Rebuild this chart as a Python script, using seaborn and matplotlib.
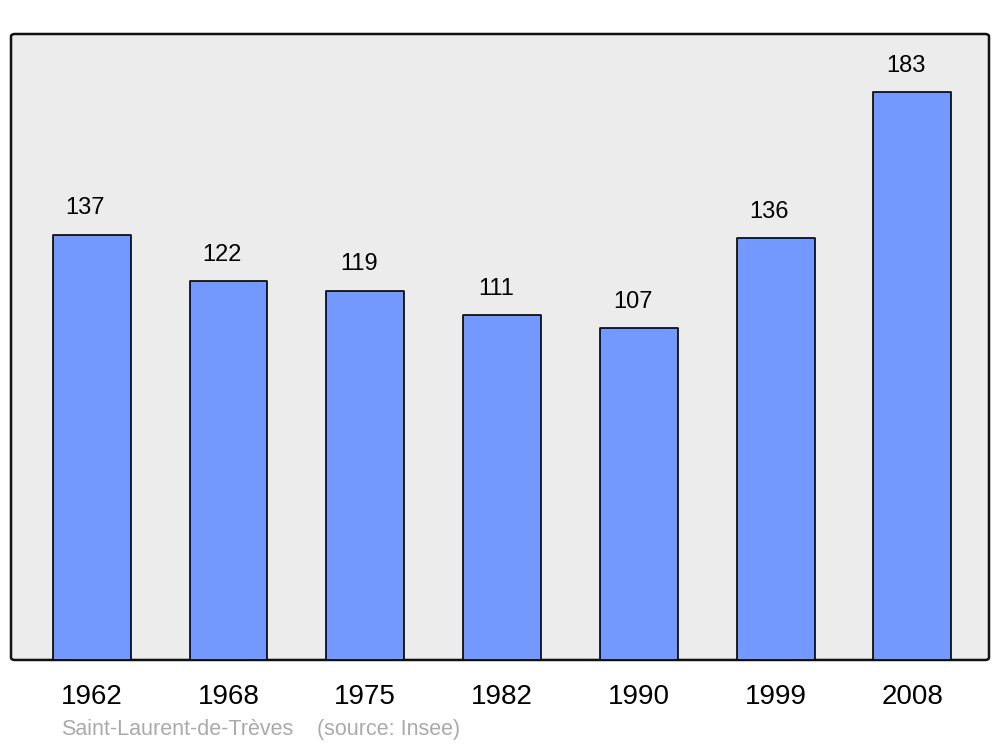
import matplotlib
matplotlib.use("Agg")
import matplotlib.pyplot as plt
import pandas as pd
import seaborn as sns
from matplotlib.patches import FancyBboxPatch

# population data
years = ["1962", "1968", "1975", "1982", "1990", "1999", "2008"]
population = [137, 122, 119, 111, 107, 136, 183]
town = "Saint-Laurent-de-Trèves"
source = "(source: Insee)"

df = pd.DataFrame({"year": years, "pop": population})

sns.set_theme(style="white")
plt.rcParams["font.family"] = ["Liberation Sans", "DejaVu Sans"]

fig = plt.figure(figsize=(10, 7.47), dpi=100)
ax = fig.add_axes([0.011, 0.1165, 0.978, 0.838])
ax.patch.set_visible(False)

# rounded grey frame
frame = FancyBboxPatch((0, 0), 1, 1, boxstyle="round,pad=0,rounding_size=0.004",
                       transform=ax.transAxes, facecolor="#ececec",
                       edgecolor="#111111", linewidth=1.8, zorder=0, clip_on=False)
ax.add_patch(frame)

sns.barplot(data=df, x="year", y="pop", color="#7399ff", width=0.57,
            edgecolor="black", linewidth=1.2, saturation=1, ax=ax, zorder=2)
for p in ax.patches[1:]:
    p.set_joinstyle("round")

for i, v in enumerate(population):
    ax.annotate(str(v), (i, v), xytext=(-4.5, 19), textcoords="offset points",
                ha="center", va="center", fontsize=17, color="black")

ax.set_xlim(-0.59, 6.56)
ax.set_ylim(0, 201.7)
ax.set_yticks([])
ax.set_xlabel("")
ax.set_ylabel("")
ax.tick_params(axis="x", length=0, pad=17, labelsize=20, colors="black")
for s in ax.spines.values():
    s.set_visible(False)

fig.text(0.061, 0.023, town, fontsize=15.5, color="#aaaaaa", ha="left", va="center")
fig.text(0.317, 0.023, source, fontsize=15.5, color="#aaaaaa", ha="left", va="center")

fig.savefig("out.png", dpi=100)
